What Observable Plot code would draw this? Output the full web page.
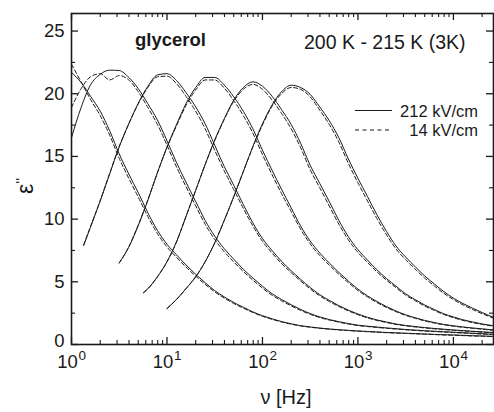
<!DOCTYPE html>
<html><head><meta charset="utf-8">
<script src="https://cdn.jsdelivr.net/npm/d3@7"></script>
<script src="https://cdn.jsdelivr.net/npm/@observablehq/plot@0.6"></script>
<style>body{margin:0;background:#fff} svg{display:block}</style>
</head><body><div id="chart"></div>
<script>
// temperatures 200 K - 215 K in 3 K steps
const temperatures = [200, 203, 206, 209, 212, 215];
// common frequency grid (Hz)
const nu = [1, 1.26, 1.58, 2, 2.51, 3.16, 3.98, 5.01, 6.31, 7.94,
  10, 12.6, 15.8, 20, 25.1, 31.6, 39.8, 50.1, 63.1, 79.4,
  100, 126, 158, 200, 251, 316, 398, 501, 631, 794,
  1000, 1260, 1580, 2000, 2510, 3160, 3980, 5010, 6310, 7940,
  10000, 12600, 15800, 20000, 26300];
const _ = null;
// 212 kV/cm (solid)
const solid200 = [21.7, 20.9, 19.8, 18.6, 17.05, 15.2, 13.6, 12.1, 10.5, 9.1,
  8.0, 7.15, 6.35, 5.6, 4.93, 4.3, 3.8, 3.35, 2.97, 2.6,
  2.3, 2.05, 1.83, 1.65, 1.5, 1.4, 1.31, 1.24, 1.18, 1.13,
  1.08, 1.04, 1.0, 0.96, 0.93, 0.9, 0.87, 0.84, 0.81, 0.78,
  0.76, 0.73, 0.7, 0.68, 0.65];
const solid203 = [16.5, 18.9, 20.7, 21.55, 21.88, 21.85, 21.3, 20.4, 19.2, 17.9,
  16.25, 14.5, 12.95, 11.4, 9.9, 8.65, 7.64, 6.8, 6.0, 5.3,
  4.65, 4.05, 3.6, 3.17, 2.8, 2.47, 2.2, 1.99, 1.82, 1.67,
  1.54, 1.46, 1.39, 1.32, 1.26, 1.2, 1.15, 1.1, 1.06, 1.02,
  0.98, 0.94, 0.9, 0.86, 0.82];
const solid206 = [_, _, 9.35, 11.45, 13.6, 15.75, 17.6, 19.25, 20.6, 21.5,
  21.6, 21.05, 20.1, 18.95, 17.6, 15.9, 14.2, 12.7, 11.15, 9.7,
  8.45, 7.5, 6.65, 5.88, 5.2, 4.55, 3.98, 3.52, 3.1, 2.74,
  2.43, 2.17, 1.96, 1.79, 1.63, 1.52, 1.43, 1.35, 1.28, 1.22,
  1.16, 1.11, 1.06, 1.01, 0.96];
const solid209 = [_, _, _, _, _, 6.5, 7.76, 9.5, 11.5, 13.7,
  15.75, 17.55, 19.2, 20.5, 21.3, 21.3, 20.7, 19.75, 18.6, 17.2,
  15.5, 13.9, 12.4, 10.9, 9.45, 8.25, 7.3, 6.5, 5.75, 5.06,
  4.42, 3.88, 3.43, 3.02, 2.67, 2.37, 2.13, 1.92, 1.75, 1.6,
  1.49, 1.4, 1.32, 1.25, 1.16];
const solid212 = [_, _, _, _, _, _, _, _, 4.45, 5.4,
  6.6, 8.2, 10.2, 12.3, 14.35, 16.3, 18.0, 19.5, 20.5, 20.95,
  20.6, 19.8, 18.75, 17.55, 16.05, 14.3, 12.85, 11.4, 9.9, 8.6,
  7.56, 6.73, 5.96, 5.25, 4.65, 4.04, 3.58, 3.15, 2.79, 2.45,
  2.2, 1.97, 1.8, 1.64, 1.5];
const solid215 = [_, _, _, _, _, _, _, _, _, _,
  2.87, 3.6, 4.45, 5.4, 6.6, 8.1, 9.9, 11.8, 13.8, 15.8,
  17.6, 19.1, 20.15, 20.68, 20.5, 19.95, 18.95, 17.85, 16.5, 14.8,
  13.25, 11.8, 10.35, 9.0, 7.85, 6.98, 6.2, 5.47, 4.83, 4.22,
  3.7, 3.27, 2.9, 2.55, 2.17];
// 14 kV/cm (dashed)
const dashed200 = [22.35, 20.95, 19.55, 18.25, 16.7, 14.85, 13.25, 11.75, 10.2, 8.85,
  7.78, 6.95, 6.18, 5.45, 4.8, 4.2, 3.7, 3.27, 2.9, 2.55,
  2.25, 2.01, 1.8, 1.62, 1.48, 1.38, 1.29, 1.22, 1.16, 1.11,
  1.06, 1.02, 0.98, 0.94, 0.91, 0.88, 0.85, 0.82, 0.79, 0.76,
  0.74, 0.71, 0.68, 0.66, 0.63];
const dashed203 = [18.9, 20.4, 21.35, 21.6, 21.1, 21.45, 21.1, 20.15, 18.9, 17.55,
  15.9, 14.15, 12.6, 11.05, 9.6, 8.38, 7.4, 6.58, 5.82, 5.14,
  4.5, 3.93, 3.49, 3.08, 2.72, 2.41, 2.15, 1.95, 1.78, 1.63,
  1.51, 1.43, 1.36, 1.29, 1.23, 1.17, 1.12, 1.07, 1.03, 0.99,
  0.95, 0.91, 0.87, 0.83, 0.79];
const dashed206 = [_, _, 9.4, 11.5, 13.65, 15.8, 17.6, 19.2, 20.5, 21.35,
  21.4, 20.8, 19.8, 18.6, 17.2, 15.5, 13.85, 12.35, 10.85, 9.45,
  8.23, 7.3, 6.47, 5.73, 5.07, 4.43, 3.88, 3.43, 3.03, 2.68,
  2.38, 2.12, 1.92, 1.75, 1.6, 1.49, 1.4, 1.32, 1.25, 1.19,
  1.13, 1.08, 1.03, 0.98, 0.93];
const dashed209 = [_, _, _, _, _, 6.5, 7.8, 9.55, 11.55, 13.7,
  15.7, 17.45, 19.05, 20.3, 21.1, 21.1, 20.45, 19.45, 18.25, 16.85,
  15.15, 13.55, 12.05, 10.6, 9.2, 8.03, 7.1, 6.33, 5.6, 4.93,
  4.31, 3.79, 3.35, 2.95, 2.61, 2.32, 2.09, 1.88, 1.71, 1.57,
  1.46, 1.37, 1.29, 1.22, 1.13];
const dashed212 = [_, _, _, _, _, _, _, _, 4.45, 5.4,
  6.6, 8.2, 10.2, 12.3, 14.35, 16.25, 17.95, 19.4, 20.35, 20.75,
  20.35, 19.5, 18.45, 17.2, 15.7, 13.95, 12.5, 11.05, 9.6, 8.35,
  7.35, 6.55, 5.8, 5.12, 4.53, 3.94, 3.49, 3.07, 2.72, 2.39,
  2.14, 1.92, 1.75, 1.6, 1.46];
const dashed215 = [_, _, _, _, _, _, _, _, _, _,
  2.87, 3.6, 4.45, 5.4, 6.6, 8.1, 9.9, 11.8, 13.8, 15.75,
  17.5, 19.0, 20.0, 20.5, 20.35, 19.75, 18.7, 17.55, 16.15, 14.45,
  12.9, 11.45, 10.05, 8.73, 7.62, 6.77, 6.0, 5.3, 4.67, 4.08,
  3.58, 3.16, 2.8, 2.46, 2.1];
// first measured points that lie off the grid
const startT = [206, 212];
const startNu = [1.34, 5.67];
const startSolid = [7.9, 4.12];
const startDashed = [7.95, 4.15];
// axis ticks
const yMajor = [0, 5, 10, 15, 20, 25];
const yMinor = [2.5, 7.5, 12.5, 17.5, 22.5];
const xMajor = [1, 10, 100, 1000, 10000];
const xMinor = [];
for (const d of [1, 10, 100, 1000, 10000]) for (let m = 2; m <= 9; m++) if (d * m <= 26300) xMinor.push(d * m);

function buildRows(list, startVals) {
  const rows = [];
  list.forEach((vals, k) => {
    const T = temperatures[k];
    const s = startT.indexOf(T);
    if (s >= 0) rows.push({T, nu: startNu[s], eps: startVals[s]});
    vals.forEach((e, i) => { if (e != null) rows.push({T, nu: nu[i], eps: e}); });
  });
  return rows;
}
const solidRows = buildRows([solid200, solid203, solid206, solid209, solid212, solid215], startSolid);
const dashedRows = buildRows([dashed200, dashed203, dashed206, dashed209, dashed212, dashed215], startDashed);

const W = 494, H = 412, ML = 71, MT = 13, MB = 68, MR = 1;
const FW = W - ML - MR, FH = H - MT - MB;
const ink = "#1a1a1a";
const font = "'Liberation Sans', Arial, Helvetica, sans-serif";

const chart = Plot.plot({
  width: W, height: H,
  marginLeft: ML, marginTop: MT, marginBottom: MB, marginRight: MR,
  style: {fontFamily: font, fontSize: "19px", color: ink, background: "#fff"},
  x: {type: "log", domain: [1, 26300], axis: null},
  y: {domain: [0, 26.4], axis: null},
  marks: [
    Plot.line(dashedRows, {x: "nu", y: "eps", z: "T", stroke: ink, strokeWidth: 1, strokeDasharray: "4,2.5", curve: "monotone-x", clip: true}),
    Plot.line(solidRows, {x: "nu", y: "eps", z: "T", stroke: ink, strokeWidth: 1, curve: "monotone-x", clip: true}),
    Plot.frame({stroke: ink, strokeWidth: 1.6}),
    // inward ticks, all four sides
    Plot.tickX(xMajor, {x: d => d, insetTop: FH - 7, stroke: ink, strokeWidth: 1.3}),
    Plot.tickX(xMinor, {x: d => d, insetTop: FH - 4, stroke: ink, strokeWidth: 1.1}),
    Plot.tickX(xMajor, {x: d => d, insetBottom: FH - 7, stroke: ink, strokeWidth: 1.3}),
    Plot.tickX(xMinor, {x: d => d, insetBottom: FH - 4, stroke: ink, strokeWidth: 1.1}),
    Plot.tickY(yMajor, {y: d => d, insetRight: FW - 7, stroke: ink, strokeWidth: 1.3}),
    Plot.tickY(yMinor, {y: d => d, insetRight: FW - 4, stroke: ink, strokeWidth: 1.1}),
    Plot.tickY(yMajor, {y: d => d, insetLeft: FW - 7, stroke: ink, strokeWidth: 1.3}),
    Plot.tickY(yMinor, {y: d => d, insetLeft: FW - 4, stroke: ink, strokeWidth: 1.1}),
    // y tick labels (the 0 label sits a little higher, clear of 10^0)
    Plot.text(yMajor.filter(v => v > 0), {y: d => d, frameAnchor: "left", text: d => String(d), dx: -7, textAnchor: "end", fontSize: 18.5, fill: ink}),
    Plot.text([0], {y: d => d, frameAnchor: "left", text: d => String(d), dx: -7, dy: -3, textAnchor: "end", fontSize: 18.5, fill: ink}),
    Plot.text(xMajor, {x: d => d, frameAnchor: "bottom", text: () => "10", dx: -4, dy: 23, fontSize: 18.5, fill: ink}),
    Plot.text(xMajor, {x: d => d, frameAnchor: "bottom", text: d => String(Math.round(Math.log10(d))), dx: 7, dy: 15, fontSize: 13.5, textAnchor: "start", fill: ink})
  ]
});

const svg = d3.select(chart);
function addText(x, y, str, opts = {}) {
  const t = svg.append("text").attr("x", x).attr("y", y).attr("fill", ink)
    .attr("font-family", font).attr("font-size", opts.size || 19)
    .attr("text-anchor", opts.anchor || "start").text(str);
  if (opts.weight) t.attr("font-weight", opts.weight);
  return t;
}
addText(135, 46, "glycerol", {weight: "bold", size: 18.5});
addText(304, 49, "200 K - 215 K (3K)", {size: 19.5});
// legend
svg.append("line").attr("x1", 355).attr("x2", 392).attr("y1", 110.5).attr("y2", 110.5).attr("stroke", ink).attr("stroke-width", 1);
svg.append("line").attr("x1", 355).attr("x2", 392).attr("y1", 130).attr("y2", 130).attr("stroke", ink).attr("stroke-width", 1).attr("stroke-dasharray", "4,3.5");
addText(478, 116.5, "212 kV/cm", {size: 16.5, anchor: "end"});
addText(478, 136, "14 kV/cm", {size: 16.5, anchor: "end"});
// axis titles
addText(286, 404, "ν [Hz]", {size: 20, anchor: "middle"});
const yl = svg.append("text").attr("transform", "translate(33,186) rotate(-90)")
  .attr("fill", ink).attr("font-family", font).attr("font-size", 23).attr("text-anchor", "middle");
yl.append("tspan").text("ε");
yl.append("tspan").attr("dy", -7).attr("font-size", 15).text("''");

document.getElementById("chart").appendChild(chart);
</script>
</body></html>
